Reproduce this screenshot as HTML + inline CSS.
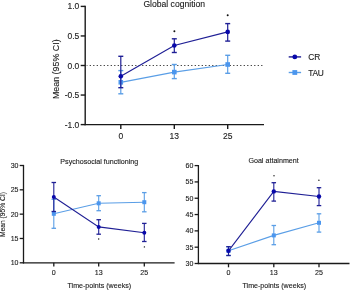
<!DOCTYPE html>
<html><head><meta charset="utf-8"><style>
html,body{margin:0;padding:0;background:#fff;}
svg{display:block;font-family:"Liberation Sans",sans-serif;will-change:transform;}
text{stroke:#222;stroke-width:0.12px;}
</style></head><body>
<svg width="350" height="290" viewBox="0 0 350 290">
<rect width="350" height="290" fill="#fff"/>
<line x1="85.20" y1="5.80" x2="85.20" y2="125.20" stroke="#1a1a1a" stroke-width="1.4" />
<line x1="84.60" y1="124.60" x2="264.00" y2="124.60" stroke="#1a1a1a" stroke-width="1.4" />
<line x1="80.70" y1="6.40" x2="85.20" y2="6.40" stroke="#1a1a1a" stroke-width="1.4" />
<text x="79.30" y="9.46" font-size="8.5" text-anchor="end" fill="#222" >1.0</text>
<line x1="80.70" y1="35.95" x2="85.20" y2="35.95" stroke="#1a1a1a" stroke-width="1.4" />
<text x="79.30" y="39.01" font-size="8.5" text-anchor="end" fill="#222" >0.5</text>
<line x1="80.70" y1="65.50" x2="85.20" y2="65.50" stroke="#1a1a1a" stroke-width="1.4" />
<text x="79.30" y="68.56" font-size="8.5" text-anchor="end" fill="#222" >0.0</text>
<line x1="80.70" y1="95.05" x2="85.20" y2="95.05" stroke="#1a1a1a" stroke-width="1.4" />
<text x="79.30" y="98.11" font-size="8.5" text-anchor="end" fill="#222" >-0.5</text>
<line x1="80.70" y1="124.60" x2="85.20" y2="124.60" stroke="#1a1a1a" stroke-width="1.4" />
<text x="79.30" y="127.66" font-size="8.5" text-anchor="end" fill="#222" >-1.0</text>
<line x1="120.80" y1="124.60" x2="120.80" y2="129.10" stroke="#1a1a1a" stroke-width="1.4" />
<text x="120.80" y="138.60" font-size="8.5" text-anchor="middle" fill="#222" >0</text>
<line x1="174.30" y1="124.60" x2="174.30" y2="129.10" stroke="#1a1a1a" stroke-width="1.4" />
<text x="174.30" y="138.60" font-size="8.5" text-anchor="middle" fill="#222" >13</text>
<line x1="227.70" y1="124.60" x2="227.70" y2="129.10" stroke="#1a1a1a" stroke-width="1.4" />
<text x="227.70" y="138.60" font-size="8.5" text-anchor="middle" fill="#222" >25</text>
<line x1="86.70" y1="65.50" x2="263" y2="65.50" stroke="#333" stroke-width="1.0" stroke-dasharray="1.2 2.3" stroke-dashoffset="0.5"/>
<text x="174.20" y="6.60" font-size="8.6" text-anchor="middle" fill="#222" >Global cognition</text>
<text x="0" y="0" font-size="8.9" text-anchor="middle" fill="#222" transform="translate(58.7,69.2) rotate(-90)">Mean (95% CI)</text>
<polyline points="120.80,82.30 174.30,72.10 227.70,64.50" fill="none" stroke="#5a9ee6" stroke-width="1.2"/>
<line x1="120.80" y1="70.60" x2="120.80" y2="93.80" stroke="#5a9ee6" stroke-width="1.2" />
<line x1="118.30" y1="70.60" x2="123.30" y2="70.60" stroke="#5a9ee6" stroke-width="1.4" />
<line x1="118.30" y1="93.80" x2="123.30" y2="93.80" stroke="#5a9ee6" stroke-width="1.4" />
<rect x="118.50" y="80.00" width="4.6" height="4.6" fill="#4b96ee"/>
<line x1="174.30" y1="64.50" x2="174.30" y2="78.60" stroke="#5a9ee6" stroke-width="1.2" />
<line x1="171.80" y1="64.50" x2="176.80" y2="64.50" stroke="#5a9ee6" stroke-width="1.4" />
<line x1="171.80" y1="78.60" x2="176.80" y2="78.60" stroke="#5a9ee6" stroke-width="1.4" />
<rect x="172.00" y="69.80" width="4.6" height="4.6" fill="#4b96ee"/>
<line x1="227.70" y1="55.30" x2="227.70" y2="73.30" stroke="#5a9ee6" stroke-width="1.2" />
<line x1="225.20" y1="55.30" x2="230.20" y2="55.30" stroke="#5a9ee6" stroke-width="1.4" />
<line x1="225.20" y1="73.30" x2="230.20" y2="73.30" stroke="#5a9ee6" stroke-width="1.4" />
<rect x="225.40" y="62.20" width="4.6" height="4.6" fill="#4b96ee"/>
<polyline points="120.80,76.20 174.30,45.50 227.70,31.90" fill="none" stroke="#1f1f95" stroke-width="1.2"/>
<line x1="120.80" y1="56.30" x2="120.80" y2="87.70" stroke="#1f1f95" stroke-width="1.2" />
<line x1="118.30" y1="56.30" x2="123.30" y2="56.30" stroke="#1f1f95" stroke-width="1.4" />
<line x1="118.30" y1="87.70" x2="123.30" y2="87.70" stroke="#1f1f95" stroke-width="1.4" />
<circle cx="120.80" cy="76.20" r="2.3" fill="#0808aa"/>
<line x1="174.30" y1="38.80" x2="174.30" y2="52.50" stroke="#1f1f95" stroke-width="1.2" />
<line x1="171.80" y1="38.80" x2="176.80" y2="38.80" stroke="#1f1f95" stroke-width="1.4" />
<line x1="171.80" y1="52.50" x2="176.80" y2="52.50" stroke="#1f1f95" stroke-width="1.4" />
<circle cx="174.30" cy="45.50" r="2.3" fill="#0808aa"/>
<line x1="227.70" y1="23.60" x2="227.70" y2="41.10" stroke="#1f1f95" stroke-width="1.2" />
<line x1="225.20" y1="23.60" x2="230.20" y2="23.60" stroke="#1f1f95" stroke-width="1.4" />
<line x1="225.20" y1="41.10" x2="230.20" y2="41.10" stroke="#1f1f95" stroke-width="1.4" />
<circle cx="227.70" cy="31.90" r="2.3" fill="#0808aa"/>
<circle cx="174.40" cy="31.20" r="1.0" fill="#111"/>
<circle cx="227.70" cy="15.30" r="1.0" fill="#111"/>
<line x1="288.70" y1="56.90" x2="301.10" y2="56.90" stroke="#1f1f95" stroke-width="1.4" />
<circle cx="294.8" cy="56.9" r="2.4" fill="#0808aa"/>
<line x1="288.70" y1="72.50" x2="301.10" y2="72.50" stroke="#5a9ee6" stroke-width="1.4" />
<rect x="292.4" y="70.1" width="4.8" height="4.8" fill="#4b96ee"/>
<text x="308.30" y="60.00" font-size="8.4" text-anchor="start" fill="#222" >CR</text>
<text x="308.30" y="75.60" font-size="8.4" text-anchor="start" fill="#222" letter-spacing="-0.35">TAU</text>
<line x1="23.50" y1="164.90" x2="23.50" y2="263.40" stroke="#1a1a1a" stroke-width="1.3" />
<line x1="22.90" y1="262.80" x2="174.60" y2="262.80" stroke="#1a1a1a" stroke-width="1.3" />
<line x1="19.70" y1="165.50" x2="23.50" y2="165.50" stroke="#1a1a1a" stroke-width="1.3" />
<text x="18.50" y="168.02" font-size="7.0" text-anchor="end" fill="#222" >30</text>
<line x1="19.70" y1="189.82" x2="23.50" y2="189.82" stroke="#1a1a1a" stroke-width="1.3" />
<text x="18.50" y="192.34" font-size="7.0" text-anchor="end" fill="#222" >25</text>
<line x1="19.70" y1="214.15" x2="23.50" y2="214.15" stroke="#1a1a1a" stroke-width="1.3" />
<text x="18.50" y="216.67" font-size="7.0" text-anchor="end" fill="#222" >20</text>
<line x1="19.70" y1="238.48" x2="23.50" y2="238.48" stroke="#1a1a1a" stroke-width="1.3" />
<text x="18.50" y="241.00" font-size="7.0" text-anchor="end" fill="#222" >15</text>
<line x1="19.70" y1="262.80" x2="23.50" y2="262.80" stroke="#1a1a1a" stroke-width="1.3" />
<text x="18.50" y="265.32" font-size="7.0" text-anchor="end" fill="#222" >10</text>
<line x1="53.80" y1="262.80" x2="53.80" y2="266.60" stroke="#1a1a1a" stroke-width="1.3" />
<text x="53.80" y="274.80" font-size="7.1" text-anchor="middle" fill="#222" >0</text>
<line x1="98.70" y1="262.80" x2="98.70" y2="266.60" stroke="#1a1a1a" stroke-width="1.3" />
<text x="98.70" y="274.80" font-size="7.1" text-anchor="middle" fill="#222" >13</text>
<line x1="144.30" y1="262.80" x2="144.30" y2="266.60" stroke="#1a1a1a" stroke-width="1.3" />
<text x="144.30" y="274.80" font-size="7.1" text-anchor="middle" fill="#222" >25</text>
<text x="99.30" y="163.60" font-size="7.12" text-anchor="middle" fill="#222" >Psychosocial functioning</text>
<text x="67.50" y="288.00" font-size="7.1" text-anchor="start" fill="#222" >Time-points (weeks)</text>
<text x="0" y="0" font-size="6.7" text-anchor="middle" fill="#222" transform="translate(4.8,214.5) rotate(-90)">Mean (95% CI)</text>
<polyline points="53.80,213.80 98.70,203.30 144.30,202.20" fill="none" stroke="#5a9ee6" stroke-width="1.1"/>
<line x1="53.80" y1="199.30" x2="53.80" y2="228.30" stroke="#5a9ee6" stroke-width="1.1" />
<line x1="51.55" y1="199.30" x2="56.05" y2="199.30" stroke="#5a9ee6" stroke-width="1.3" />
<line x1="51.55" y1="228.30" x2="56.05" y2="228.30" stroke="#5a9ee6" stroke-width="1.3" />
<rect x="51.80" y="211.80" width="4.0" height="4.0" fill="#4b96ee"/>
<line x1="98.70" y1="195.70" x2="98.70" y2="210.70" stroke="#5a9ee6" stroke-width="1.1" />
<line x1="96.45" y1="195.70" x2="100.95" y2="195.70" stroke="#5a9ee6" stroke-width="1.3" />
<line x1="96.45" y1="210.70" x2="100.95" y2="210.70" stroke="#5a9ee6" stroke-width="1.3" />
<rect x="96.70" y="201.30" width="4.0" height="4.0" fill="#4b96ee"/>
<line x1="144.30" y1="192.60" x2="144.30" y2="211.80" stroke="#5a9ee6" stroke-width="1.1" />
<line x1="142.05" y1="192.60" x2="146.55" y2="192.60" stroke="#5a9ee6" stroke-width="1.3" />
<line x1="142.05" y1="211.80" x2="146.55" y2="211.80" stroke="#5a9ee6" stroke-width="1.3" />
<rect x="142.30" y="200.20" width="4.0" height="4.0" fill="#4b96ee"/>
<polyline points="53.80,197.00 98.70,226.90 144.30,232.80" fill="none" stroke="#1f1f95" stroke-width="1.1"/>
<line x1="53.80" y1="182.50" x2="53.80" y2="211.50" stroke="#1f1f95" stroke-width="1.1" />
<line x1="51.55" y1="182.50" x2="56.05" y2="182.50" stroke="#1f1f95" stroke-width="1.3" />
<line x1="51.55" y1="211.50" x2="56.05" y2="211.50" stroke="#1f1f95" stroke-width="1.3" />
<circle cx="53.80" cy="197.00" r="2.0" fill="#0808aa"/>
<line x1="98.70" y1="219.70" x2="98.70" y2="234.20" stroke="#1f1f95" stroke-width="1.1" />
<line x1="96.45" y1="219.70" x2="100.95" y2="219.70" stroke="#1f1f95" stroke-width="1.3" />
<line x1="96.45" y1="234.20" x2="100.95" y2="234.20" stroke="#1f1f95" stroke-width="1.3" />
<circle cx="98.70" cy="226.90" r="2.0" fill="#0808aa"/>
<line x1="144.30" y1="223.40" x2="144.30" y2="241.50" stroke="#1f1f95" stroke-width="1.1" />
<line x1="142.05" y1="223.40" x2="146.55" y2="223.40" stroke="#1f1f95" stroke-width="1.3" />
<line x1="142.05" y1="241.50" x2="146.55" y2="241.50" stroke="#1f1f95" stroke-width="1.3" />
<circle cx="144.30" cy="232.80" r="2.0" fill="#0808aa"/>
<circle cx="98.70" cy="239.00" r="0.7" fill="#111"/>
<circle cx="144.40" cy="246.90" r="0.7" fill="#111"/>
<line x1="198.40" y1="165.00" x2="198.40" y2="264.10" stroke="#1a1a1a" stroke-width="1.3" />
<line x1="197.80" y1="263.50" x2="349.50" y2="263.50" stroke="#1a1a1a" stroke-width="1.3" />
<line x1="194.60" y1="165.60" x2="198.40" y2="165.60" stroke="#1a1a1a" stroke-width="1.3" />
<text x="193.40" y="168.12" font-size="7.0" text-anchor="end" fill="#222" >60</text>
<line x1="194.60" y1="181.92" x2="198.40" y2="181.92" stroke="#1a1a1a" stroke-width="1.3" />
<text x="193.40" y="184.44" font-size="7.0" text-anchor="end" fill="#222" >55</text>
<line x1="194.60" y1="198.23" x2="198.40" y2="198.23" stroke="#1a1a1a" stroke-width="1.3" />
<text x="193.40" y="200.75" font-size="7.0" text-anchor="end" fill="#222" >50</text>
<line x1="194.60" y1="214.55" x2="198.40" y2="214.55" stroke="#1a1a1a" stroke-width="1.3" />
<text x="193.40" y="217.07" font-size="7.0" text-anchor="end" fill="#222" >45</text>
<line x1="194.60" y1="230.87" x2="198.40" y2="230.87" stroke="#1a1a1a" stroke-width="1.3" />
<text x="193.40" y="233.39" font-size="7.0" text-anchor="end" fill="#222" >40</text>
<line x1="194.60" y1="247.18" x2="198.40" y2="247.18" stroke="#1a1a1a" stroke-width="1.3" />
<text x="193.40" y="249.70" font-size="7.0" text-anchor="end" fill="#222" >35</text>
<line x1="194.60" y1="263.50" x2="198.40" y2="263.50" stroke="#1a1a1a" stroke-width="1.3" />
<text x="193.40" y="266.02" font-size="7.0" text-anchor="end" fill="#222" >30</text>
<line x1="228.50" y1="263.50" x2="228.50" y2="267.30" stroke="#1a1a1a" stroke-width="1.3" />
<text x="228.50" y="275.20" font-size="7.1" text-anchor="middle" fill="#222" >0</text>
<line x1="273.80" y1="263.50" x2="273.80" y2="267.30" stroke="#1a1a1a" stroke-width="1.3" />
<text x="273.80" y="275.20" font-size="7.1" text-anchor="middle" fill="#222" >13</text>
<line x1="319.00" y1="263.50" x2="319.00" y2="267.30" stroke="#1a1a1a" stroke-width="1.3" />
<text x="319.00" y="275.20" font-size="7.1" text-anchor="middle" fill="#222" >25</text>
<text x="273.60" y="163.40" font-size="7.15" text-anchor="middle" fill="#222" >Goal attainment</text>
<text x="242.50" y="288.10" font-size="7.1" text-anchor="start" fill="#222" >Time-points (weeks)</text>
<polyline points="228.50,250.80 273.80,235.40 319.00,222.80" fill="none" stroke="#5a9ee6" stroke-width="1.1"/>
<line x1="228.50" y1="246.70" x2="228.50" y2="255.50" stroke="#5a9ee6" stroke-width="1.1" />
<line x1="226.25" y1="246.70" x2="230.75" y2="246.70" stroke="#5a9ee6" stroke-width="1.3" />
<line x1="226.25" y1="255.50" x2="230.75" y2="255.50" stroke="#5a9ee6" stroke-width="1.3" />
<rect x="226.50" y="248.80" width="4.0" height="4.0" fill="#4b96ee"/>
<line x1="273.80" y1="225.50" x2="273.80" y2="244.70" stroke="#5a9ee6" stroke-width="1.1" />
<line x1="271.55" y1="225.50" x2="276.05" y2="225.50" stroke="#5a9ee6" stroke-width="1.3" />
<line x1="271.55" y1="244.70" x2="276.05" y2="244.70" stroke="#5a9ee6" stroke-width="1.3" />
<rect x="271.80" y="233.40" width="4.0" height="4.0" fill="#4b96ee"/>
<line x1="319.00" y1="213.80" x2="319.00" y2="232.10" stroke="#5a9ee6" stroke-width="1.1" />
<line x1="316.75" y1="213.80" x2="321.25" y2="213.80" stroke="#5a9ee6" stroke-width="1.3" />
<line x1="316.75" y1="232.10" x2="321.25" y2="232.10" stroke="#5a9ee6" stroke-width="1.3" />
<rect x="317.00" y="220.80" width="4.0" height="4.0" fill="#4b96ee"/>
<polyline points="228.50,250.80 273.80,191.40 319.00,196.50" fill="none" stroke="#1f1f95" stroke-width="1.1"/>
<line x1="228.50" y1="246.70" x2="228.50" y2="255.50" stroke="#1f1f95" stroke-width="1.1" />
<line x1="226.25" y1="246.70" x2="230.75" y2="246.70" stroke="#1f1f95" stroke-width="1.3" />
<line x1="226.25" y1="255.50" x2="230.75" y2="255.50" stroke="#1f1f95" stroke-width="1.3" />
<circle cx="228.50" cy="250.80" r="2.2" fill="#0808aa"/>
<line x1="273.80" y1="182.70" x2="273.80" y2="201.10" stroke="#1f1f95" stroke-width="1.1" />
<line x1="271.55" y1="182.70" x2="276.05" y2="182.70" stroke="#1f1f95" stroke-width="1.3" />
<line x1="271.55" y1="201.10" x2="276.05" y2="201.10" stroke="#1f1f95" stroke-width="1.3" />
<circle cx="273.80" cy="191.40" r="2.2" fill="#0808aa"/>
<line x1="319.00" y1="187.70" x2="319.00" y2="205.60" stroke="#1f1f95" stroke-width="1.1" />
<line x1="316.75" y1="187.70" x2="321.25" y2="187.70" stroke="#1f1f95" stroke-width="1.3" />
<line x1="316.75" y1="205.60" x2="321.25" y2="205.60" stroke="#1f1f95" stroke-width="1.3" />
<circle cx="319.00" cy="196.50" r="2.2" fill="#0808aa"/>
<circle cx="274.00" cy="175.80" r="0.7" fill="#111"/>
<circle cx="318.90" cy="180.30" r="0.7" fill="#111"/>
</svg>
</body></html>
